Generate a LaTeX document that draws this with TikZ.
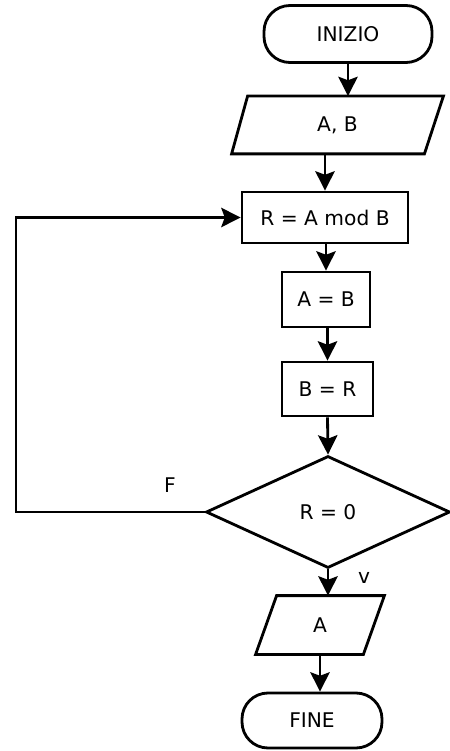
\documentclass[tikz,border=0pt]{standalone}
\usepackage{fontspec}
\setmainfont{DejaVu Sans}
\usetikzlibrary{arrows.meta,shapes.geometric}
\tikzset{flow/.style = {-{Stealth[length=11pt, width=11pt, inset=2pt]}}}
\tikzset{blk/.style = {line width=1.6pt, inner sep=0, font=\fontsize{11.5}{13}\selectfont}}
\tikzset{term/.style = {blk, draw, rectangle, rounded corners=0.52cm}}
\tikzset{proc/.style = {blk, draw, rectangle}}
\tikzset{io/.style = {blk, rectangle}}
\tikzset{cond/.style = {blk, draw, diamond}}

\begin{document}
\begin{tikzpicture}[line width=1.6pt]
\useasboundingbox (0,0) rectangle (8.98,-15.02);
\node[term, minimum width=3.36cm, minimum height=1.14cm] (inizio) at (6.96,-0.68) {INIZIO};
\node[io, minimum width=4.18cm, minimum height=1.1cm] (ab) at (6.75,-2.5) {A, B};
\node[proc, minimum width=3.32cm, minimum height=1.02cm] (rmod) at (6.5,-4.35) {R = A mod B};
\node[proc, minimum width=1.76cm, minimum height=1.1cm] (aeqb) at (6.52,-5.99) {A = B};
\node[proc, minimum width=1.82cm, minimum height=1.08cm] (beqr) at (6.55,-7.78) {B = R};
\node[cond, minimum width=4.88cm, minimum height=2.24cm] (test) at (6.56,-10.24) {R = 0};
\node[io, minimum width=2.52cm, minimum height=1.12cm] (outa) at (6.4,-12.5) {A};
\node[term, minimum width=2.8cm, minimum height=1.1cm] (fine) at (6.24,-14.41) {FINE};
\node[font=\fontsize{11.5}{13}\selectfont] (lblf) at (3.4,-9.7) {F};
\node[font=\fontsize{11.5}{13}\selectfont] (lblv) at (7.28,-11.56) {v};
\coordinate (back) at (0.32,-10.24);

% parallelograms
\draw ([xshift=0.32cm]ab.north west) -- (ab.north east) -- ([xshift=-0.38cm]ab.south east) -- (ab.south west) -- cycle;
\draw ([xshift=0.42cm]outa.north west) -- (outa.north east) -- ([xshift=-0.42cm]outa.south east) -- (outa.south west) -- cycle;

\draw[flow] (inizio.south) -- (inizio.south |- ab.north);
\draw[flow] (rmod.north |- ab.south) -- (rmod.north);
\draw[flow] (aeqb.north |- rmod.south) -- (aeqb.north);
\draw[flow] (beqr.north |- aeqb.south) -- (beqr.north);
\draw[flow] (beqr.south) -- (test.north);
\draw[flow] (test.south) -- (test.south |- outa.north);
\draw[flow] (outa.south) -- (outa.south |- fine.north);
\draw[flow] (test.west) -- (back) |- (rmod.west);
\end{tikzpicture}
\end{document}
